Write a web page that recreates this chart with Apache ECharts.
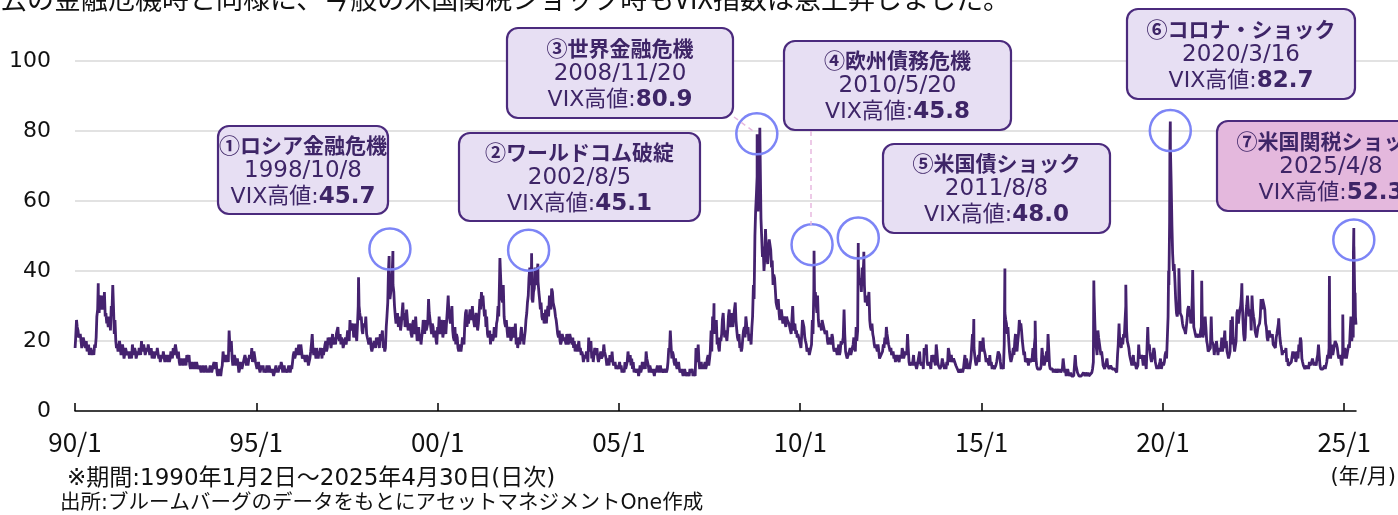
<!DOCTYPE html>
<html><head><meta charset="utf-8">
<script src="https://cdn.jsdelivr.net/npm/echarts@6/dist/echarts.min.js"></script>
<style>html,body{margin:0;padding:0;background:#fff}#c{width:1398px;height:515px}</style>
</head><body><div id="c"></div>
<script>
// VIX closes: readings on the 1st and 16th of each month
const vix1990 = [18,26,23,21,20,19,21,18,17,19,16,17,17,19,21,29,28,31,33,29,27,25,24,26];
const vix1991 = [30,36,22,20,19,17,18,16,17,15,18,16,15,17,19,16,17,15,16,18,20,17,19,16];
const vix1992 = [17,19,16,15,17,15,16,18,16,14,15,17,14,15,16,15,17,18,16,19,15,14,13,15];
const vix1993 = [13,14,16,14,13,12,14,13,12,14,12,13,12,13,11,12,12,11,12,11,14,12,11,10];
const vix1994 = [11,12,17,14,14,16,23,17,15,14,15,13,13,12,13,12,14,15,15,13,16,18,15,17];
const vix1995 = [14,12,12,11,12,11,12,13,11,12,11,12,11,13,12,11,12,13,12,11,12,11,12,13];
const vix1996 = [14,17,16,18,19,16,17,15,16,14,15,13,17,22,16,17,18,15,16,17,18,16,20,18];
const vix1997 = [19,21,20,19,21,22,24,20,19,20,18,21,21,23,26,23,24,22,22,25,30,26,23,25];
const vix1998 = [24,22,20,19,18,17,20,18,19,21,22,20,18,17,24,31,38,34,40,34,27,25,24,27];
const vix1999 = [25,31,28,25,26,23,24,21,26,22,23,21,20,19,23,25,26,23,32,26,22,24,21,20];
const vix2000 = [24,27,22,25,23,26,26,33,28,25,23,20,19,21,17,18,19,21,25,29,27,25,28,30];
const vix2001 = [27,24,26,25,32,34,33,27,24,22,21,19,22,21,23,25,30,38,35,31,27,24,23,21];
const vix2002 = [23,21,24,22,19,18,21,22,20,19,23,28,33,41,36,31,35,38,40,34,29,27,28,26];
const vix2003 = [25,30,33,29,34,31,27,24,21,20,20,22,21,19,21,20,22,19,18,17,19,17,17,16];
const vix2004 = [16,14,15,16,21,17,15,14,18,16,15,14,17,15,19,16,13,14,16,14,14,13,12,13];
const vix2005 = [13,12,11,12,14,13,17,14,13,12,11,12,11,10,13,12,12,14,17,15,11,12,11,12];
const vix2006 = [12,11,12,11,11,12,11,12,12,18,23,15,16,13,13,12,12,11,11,10,11,10,11,12];
const vix2007 = [11,10,11,18,16,14,13,12,12,14,13,16,15,23,27,22,24,19,18,21,22,28,21,23];
const vix2008 = [23,29,25,28,27,31,23,20,18,17,21,24,27,22,20,21,24,36,50,62,57,66,55,44];
const vix2009 = [40,52,44,47,49,41,36,38,31,29,28,26,27,25,25,27,26,24,22,30,23,22,21,22];
const vix2010 = [19,22,26,21,19,17,16,18,26,35,34,28,26,24,23,26,24,22,20,19,20,22,18,17];
const vix2011 = [17,16,16,20,20,29,17,15,15,18,17,19,18,24,23,36,38,41,43,31,33,30,26,23];
const vix2012 = [22,19,19,17,17,15,16,19,21,24,22,18,18,16,15,14,16,15,16,15,17,16,17,22];
const vix2013 = [14,13,13,16,14,12,13,17,13,14,18,17,14,13,13,16,16,14,19,14,13,12,15,13];
const vix2014 = [13,14,18,15,16,14,15,13,12,11,11,12,12,16,15,12,12,15,22,18,14,13,16,20];
const vix2015 = [19,21,18,14,15,13,13,12,13,12,14,17,16,12,13,19,26,22,20,15,15,18,20,18];
const vix2016 = [20,26,25,20,16,14,14,13,15,14,18,19,15,12,12,12,18,15,14,17,22,13,12,12];
const vix2017 = [12,11,11,12,12,11,15,11,10,12,10,11,10,10,16,12,11,10,10,10,11,11,10,10];
const vix2018 = [10,11,14,25,18,23,21,16,15,13,12,15,13,12,13,12,12,12,16,25,19,21,22,26];
const vix2019 = [23,19,16,14,14,13,13,12,19,16,16,13,13,12,24,19,15,14,18,14,12,12,14,12];
const vix2020 = [14,14,17,15,36,75,53,40,37,28,27,35,28,25,24,22,26,30,29,27,33,23,21,22];
const vix2021 = [22,23,28,21,27,20,17,17,27,20,16,17,20,18,17,21,17,23,20,16,16,26,27,19];
const vix2022 = [17,28,25,29,33,26,20,28,33,27,28,33,27,23,21,24,25,32,32,30,25,21,22,21];
const vix2023 = [21,19,19,21,22,24,19,16,17,17,14,13,13,14,17,15,14,17,19,21,15,13,12,13];
const vix2024 = [13,14,13,15,13,14,15,19,13,12,12,13,12,16,18,15,19,16,20,19,16,15,14,17];
const vix2025 = [17,16,15,19,23,20,21,32];

// VIX closes: readings on the 8th and 23rd of each month
const mid1990 = [21,24,21,22,18,21,19,20,18,16,18,16,16,18,27,32,33,29,31,34,28,26,27,23];
const mid1991 = [28,30,26,18,17,20,16,19,15,18,16,17,17,15,17,18,15,17,18,16,17,19,16,18];
const mid1992 = [19,16,18,17,15,17,18,15,14,16,17,14,16,14,14,17,15,16,19,16,17,13,15,13];
const mid1993 = [15,13,14,16,12,14,12,14,14,12,13,11,13,11,13,11,11,13,11,13,12,14,10,12];
const mid1994 = [10,13,15,16,16,14,19,20,13,16,13,15,11,14,12,14,16,13,13,16,15,14,17,14];
const mid1995 = [12,14,11,13,13,12,11,12,13,11,12,10,12,11,11,13,14,11,13,12,11,13,11,12];
const mid1996 = [16,15,18,16,17,19,15,16,14,16,13,15,19,18,18,15,16,17,18,15,16,19,17,21];
const mid1997 = [21,18,22,20,19,23,21,22,21,18,20,19,23,20,23,25,21,25,20,30,28,27,22,25];
const mid1998 = [27,21,19,21,17,19,19,21,21,18,20,23,19,18,27,40,32,37,36,30,25,28,26,23];
const mid1999 = [28,26,24,29,23,25,22,25,23,27,20,24,22,21,26,22,23,25,28,24,25,21,23,19];
const mid2000 = [22,24,26,21,26,22,29,28,25,30,21,24,22,18,19,17,21,19,28,24,25,29,26,27];
const mid2001 = [24,28,23,28,29,31,30,29,27,21,23,22,20,24,21,26,27,41,32,36,25,26,21,24];
const mid2002 = [20,24,21,25,21,20,19,24,22,21,26,31,38,37,32,34,41,36,37,32,31,26,25,29];
const mid2003 = [28,27,31,35,31,29,26,22,23,19,22,20,20,22,19,22,20,21,20,19,17,20,18,17];
const mid2004 = [14,16,17,14,17,20,17,16,16,18,14,16,15,16,17,15,15,13,15,17,13,14,13,12];
const mid2005 = [14,13,12,11,12,14,15,16,15,14,12,11,12,11,11,14,13,12,15,13,13,11,12,10];
const mid2006 = [11,13,11,13,12,11,12,11,14,17,19,17,14,15,12,14,11,12,10,12,10,11,10,11];
const mid2007 = [12,11,10,14,19,12,14,13,13,12,15,13,17,17,22,25,26,21,17,20,26,24,23,20];
const mid2008 = [27,24,28,24,29,26,21,22,19,18,23,21,25,24,22,19,27,32,57,67,62,73,50,47];
const mid2009 = [43,47,42,49,46,43,39,35,30,32,26,29,25,27,24,26,25,23,26,25,25,23,22,20];
const mid2010 = [18,26,24,20,17,18,16,19,22,33,31,33,24,25,26,24,22,23,19,21,19,21,17,18];
const mid2011 = [16,19,17,19,21,22,16,15,17,16,18,21,17,20,42,37,34,38,36,31,30,34,24,25];
const mid2012 = [21,18,18,19,15,16,17,18,19,22,19,17,16,17,16,15,15,14,16,18,15,17,16,18];
const mid2013 = [13,14,14,13,13,13,13,14,13,12,16,19,13,14,12,14,15,13,17,13,12,13,14,12];
const mid2014 = [12,13,17,14,14,15,15,13,12,12,11,11,12,12,14,13,12,15,18,16,13,13,14,17];
const mid2015 = [17,18,16,15,15,16,14,13,12,13,14,17,14,13,12,28,25,24,17,14,16,16,22,17];
const mid2016 = [22,24,23,20,17,14,15,14,14,15,14,21,13,12,12,13,16,13,15,14,18,12,12,11];
const mid2017 = [11,12,11,11,11,12,13,12,10,11,10,10,10,10,13,11,10,10,10,11,10,11,11,10];
const mid2018 = [10,12,33,19,16,21,21,17,13,12,12,13,12,13,12,12,12,11,19,20,18,19,21,30];
const mid2019 = [20,18,15,13,16,14,12,13,16,15,15,16,14,12,18,17,14,16,17,14,13,12,15,12];
const mid2020 = [13,16,15,27,54,66,45,42,32,27,30,28,27,24,23,22,29,27,25,33,24,22,22,21];
const mid2021 = [21,24,21,23,24,19,17,18,20,19,18,20,16,18,18,17,20,18,17,15,17,19,21,17];
const mid2022 = [20,29,27,30,32,22,21,30,30,29,23,29,26,22,21,24,27,29,32,29,24,20,23,22];
const mid2023 = [22,19,18,22,25,21,18,17,17,18,15,13,13,14,16,17,15,15,17,20,14,13,12,12];
const mid2024 = [12,13,14,14,14,13,16,16,12,12,12,12,14,15,24,15,16,16,20,18,15,16,13,15];
const mid2025 = [18,15,15,18,27,22,47,27];

// individual spike days
const spikeDates = ['1990-08-23','1997-10-27','1998-08-31','1998-10-08','2001-09-20','2002-08-05','2002-10-07','2007-08-16','2008-10-24','2008-11-20','2010-05-20','2011-08-08','2011-10-03','2014-10-15','2015-08-24','2016-06-24','2018-02-05','2018-12-24','2020-02-28','2020-03-12','2020-03-16','2020-06-11','2020-10-28','2021-01-27','2022-03-07','2023-03-13','2024-08-05','2024-12-18','2025-04-04','2025-04-08','2025-04-09','2025-04-21','2025-04-30'];
const spikeValues = [36.5,38.2,44.3,45.7,43.7,45.1,42.1,30.8,79.1,80.9,45.8,48.0,45.5,26.3,40.7,25.8,37.3,36.1,40.1,75.5,82.7,40.8,40.3,37.2,36.5,26.5,38.6,27.6,45.3,52.3,33.6,33.8,24.7];

// annotated events
const eventTitles = ['①ロシア金融危機','②ワールドコム破綻','③世界金融危機','④欧州債務危機','⑤米国債ショック','⑥コロナ・ショック','⑦米国関税ショック'];
const eventDates = ['1998-10-08','2002-08-05','2008-11-20','2010-05-20','2011-08-08','2020-03-16','2025-04-08'];
const eventDateLabels = ['1998/10/8','2002/8/5','2008/11/20','2010/5/20','2011/8/8','2020/3/16','2025/4/8'];
const eventValues = [45.7,45.1,80.9,45.8,48.0,82.7,52.3];

const xTickYears = [1990,1995,2000,2005,2010,2015,2020,2025];
const startDate = '1990-01-02';
const endDate = '2025-04-30';

const headline = '過去の金融危機時と同様に、今般の米国関税ショック時もVIX指数は急上昇しました。';
const note1 = '※期間:1990年1月2日～2025年4月30日(日次)';
const note2 = '出所:ブルームバーグのデータをもとにアセットマネジメントOne作成';
const unitLabel = '(年/月)';

function toYear(s){
  const d = Date.parse(s + 'T00:00:00Z');
  const y = Number(s.slice(0,4));
  const a = Date.UTC(y,0,1), b = Date.UTC(y+1,0,1);
  return y + (d - a) / (b - a);
}

const firstHalf = [vix1990,vix1991,vix1992,vix1993,vix1994,vix1995,vix1996,vix1997,vix1998,vix1999,vix2000,vix2001,vix2002,vix2003,vix2004,vix2005,vix2006,vix2007,vix2008,vix2009,vix2010,vix2011,vix2012,vix2013,vix2014,vix2015,vix2016,vix2017,vix2018,vix2019,vix2020,vix2021,vix2022,vix2023,vix2024,vix2025];
const midReadings = [mid1990,mid1991,mid1992,mid1993,mid1994,mid1995,mid1996,mid1997,mid1998,mid1999,mid2000,mid2001,mid2002,mid2003,mid2004,mid2005,mid2006,mid2007,mid2008,mid2009,mid2010,mid2011,mid2012,mid2013,mid2014,mid2015,mid2016,mid2017,mid2018,mid2019,mid2020,mid2021,mid2022,mid2023,mid2024,mid2025];
const pts = [];
firstHalf.forEach((arr,k)=>{ const y = 1990 + k; arr.forEach((v,i)=>pts.push([y + (Math.floor(i/2) + (i%2 ? 0.5 : 0))/12, v])); });
midReadings.forEach((arr,k)=>{ const y = 1990 + k; arr.forEach((v,i)=>pts.push([y + (Math.floor(i/2) + (i%2 ? 0.73 : 0.23))/12, v])); });
spikeDates.forEach((d,i)=>pts.push([toYear(d), spikeValues[i]]));
pts.sort((a,b)=>a[0]-b[0]);
pts[0][0] = toYear(startDate);

// layout (pixels) for callout boxes and circle offsets
const boxLayout = [[218,126,170,88],[459,133,241,88],[507,28,226,90],[784,41,227,89],[883,144,227,89],[1127,9,228,90],[1217,121,228,90]];
const circleOffset = [[-3,-2],[-3,-3],[-3,6],[-2,-6],[0,-5],[0,9],[0,12]];

const purple = '#45226f';
const txt = '#3e2567';
const cjk = "'Noto Sans CJK JP', sans-serif";
const lat = "'DejaVu Sans', 'Noto Sans CJK JP', sans-serif";

const graphics = [];
graphics.push({type:'line', z:40, shape:{x1:811,y1:131,x2:811,y2:225}, style:{stroke:'#e7b9df', lineWidth:1.5, lineDash:[5,4]}});
graphics.push({type:'line', z:40, shape:{x1:734,y1:117,x2:753,y2:131}, style:{stroke:'#e7b9df', lineWidth:1.5, lineDash:[5,4]}});
eventTitles.forEach((t,i)=>{
  const [x,y,w,h] = boxLayout[i];
  graphics.push({type:'rect', z:50, shape:{x:x, y:y, width:w, height:h, r:11},
    style:{fill: i===6 ? '#e4b8dd' : '#e7dff3', stroke:'#4b2a7d', lineWidth:2.2}});
  graphics.push({type:'text', z:51, x: x + w/2, y: y + h/2 + 1,
    style:{text: '{t|'+t+'}\n{d|'+eventDateLabels[i]+'}\n{v|VIX高値:}{b|'+eventValues[i].toFixed(1)+'}',
      align:'center', verticalAlign:'middle',
      rich:{
        t:{fontFamily:cjk, fontWeight:'bold', fontSize:21, fill:txt, lineHeight:26, align:'center'},
        d:{fontFamily:lat, fontSize:23, fill:txt, lineHeight:26, align:'center'},
        v:{fontFamily:lat, fontSize:22, fill:txt, lineHeight:26},
        b:{fontFamily:lat, fontWeight:'bold', fontSize:23, fill:txt, lineHeight:26}
      }}});
});
graphics.push({type:'text', z:60, x:-27, y:12, style:{text:headline, font:"27px 'Noto Sans CJK JP'", fill:'#111', verticalAlign:'bottom'}});
graphics.push({type:'text', z:60, x:67, y:479, style:{text:note1, font:"23px 'DejaVu Sans','Noto Sans CJK JP'", fill:'#111', verticalAlign:'middle'}});
graphics.push({type:'text', z:60, x:60, y:504, style:{text:note2, font:"20.5px 'DejaVu Sans','Noto Sans CJK JP'", fill:'#111', verticalAlign:'middle'}});
graphics.push({type:'text', z:60, x:1396, y:478, style:{text:unitLabel, font:"21px 'DejaVu Sans','Noto Sans CJK JP'", fill:'#111', align:'right', verticalAlign:'middle'}});

const xMin = toYear(startDate) - 1/365, xMax = toYear(endDate);
const chart = echarts.init(document.getElementById('c'), null, {renderer:'canvas'});
chart.setOption({
  animation:false,
  backgroundColor:'#fff',
  grid:[{left:75, right:42, top:61, bottom:104}, {left:75, right:0, top:61, bottom:104}],
  xAxis:[{type:'value', gridIndex:0, min:xMin, max:xMax,
    axisLine:{lineStyle:{color:'#000', width:1.5}},
    axisTick:{inside:true, length:8, customValues:xTickYears, lineStyle:{color:'#000', width:1.5}},
    axisLabel:{customValues:xTickYears, formatter:v=>String(Math.round(v)%100).padStart(2,'0')+'/1', margin:18,
      fontFamily:cjk, fontSize:26, color:'#111'},
    splitLine:{show:false}, z:5},
    {type:'value', gridIndex:1, min:0, max:1, show:false}],
  yAxis:[{type:'value', gridIndex:0, min:0, max:100, interval:20,
    axisLine:{show:false}, axisTick:{show:false},
    axisLabel:{margin:24, fontFamily:lat, fontSize:22, color:'#111'},
    splitLine:{show:false}},
    {type:'value', gridIndex:1, min:0, max:100, interval:20,
    axisLine:{show:false}, axisTick:{show:false}, axisLabel:{show:false},
    splitLine:{showMinLine:false, lineStyle:{color:'#d9d9d9', width:1.5}}}],
  series:[{type:'line', xAxisIndex:0, yAxisIndex:0, data:pts, showSymbol:false, symbol:'none',
    lineStyle:{color:purple, width:2.8}, z:3,
    markPoint:{silent:true, symbol:'circle', symbolSize:41, label:{show:false},
      itemStyle:{color:'rgba(0,0,0,0)', borderColor:'#7d85f6', borderWidth:2.5},
      data: eventDates.map((d,i)=>({coord:[toYear(d), eventValues[i]], symbolOffset:circleOffset[i]}))}
  }],
  graphic:graphics
});
</script></body></html>
